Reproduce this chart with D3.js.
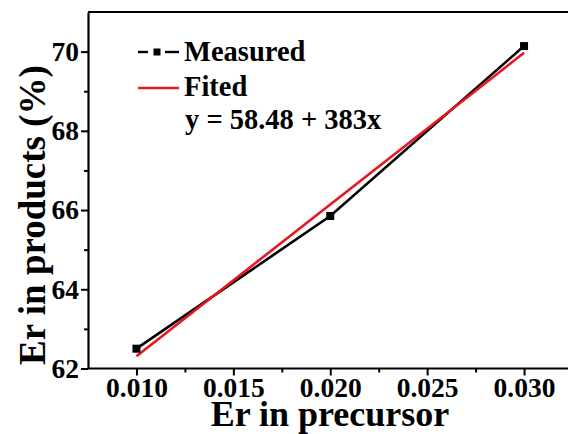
<!DOCTYPE html>
<html>
<head>
<meta charset="utf-8">
<script src="https://cdn.jsdelivr.net/npm/d3@7"></script>
<style>
  body { margin: 0; background: #fff; }
  svg { display: block; font-family: "Liberation Serif", "Times New Roman", serif; font-weight: bold; }
</style>
</head>
<body>
<div id="chart"></div>
<script>
// Er in products vs Er in precursor, measured points + linear fit

var precursor = [0.010, 0.020, 0.030];
var measured = [62.50, 65.85, 70.14];
var fitted = [62.31, 66.14, 69.97];
var xTicks = [0.010, 0.015, 0.020, 0.025, 0.030];
var xMinor = [0.0125, 0.0175, 0.0225, 0.0275];
var yTicks = [62, 64, 66, 68, 70];
var yMinor = [63, 65, 67, 69];
var legendLabels = ["Measured", "Fited"];
var equation = "y = 58.48 + 383x";

var W = 568, H = 434;
var mLeft = 88, mTop = 12, mBottom = 368.5;
var red = "#e8161e";

var svg = d3.select("#chart").append("svg")
    .attr("width", W)
    .attr("height", H);

var x = d3.scaleLinear().domain([0.0075, 0.0325]).range([mLeft, mLeft + 484.5]);
var y = d3.scaleLinear().domain([62, 71]).range([mBottom, mTop]);

// top frame line (figure is cropped on the right)
svg.append("line")
    .attr("x1", mLeft).attr("x2", W + 5)
    .attr("y1", mTop).attr("y2", mTop)
    .attr("stroke", "#000").attr("stroke-width", 2.2);

// x axis
var xAxis = svg.append("g")
    .attr("transform", "translate(0," + mBottom + ")")
    .call(d3.axisBottom(x).tickValues(xTicks).tickFormat(d3.format(".3f")).tickSize(7).tickPadding(2).tickSizeOuter(0));
svg.append("g")
    .attr("transform", "translate(0," + mBottom + ")")
    .call(d3.axisBottom(x).tickValues(xMinor).tickFormat("").tickSize(4).tickSizeOuter(0))
    .select(".domain").remove();

// y axis
var yAxis = svg.append("g")
    .attr("transform", "translate(" + mLeft + ",0)")
    .call(d3.axisLeft(y).tickValues(yTicks).tickSize(7).tickPadding(2).tickSizeOuter(0));
svg.append("g")
    .attr("transform", "translate(" + mLeft + ",0)")
    .call(d3.axisLeft(y).tickValues(yMinor).tickFormat("").tickSize(4).tickSizeOuter(0))
    .select(".domain").remove();

svg.selectAll(".domain").attr("stroke-width", 2.2);
svg.selectAll(".tick line").attr("stroke-width", 2);
svg.selectAll(".tick text")
    .attr("font-family", "Liberation Serif")
    .attr("font-weight", "bold")
    .attr("font-size", 27.5)
    .attr("fill", "#000");

// extend x domain line to the right edge
xAxis.select(".domain").attr("d", "M" + mLeft + ",0H" + (W + 5));

// axis titles
svg.append("text")
    .attr("x", 330).attr("y", 426)
    .attr("text-anchor", "middle")
    .attr("font-size", 36)
    .text("Er in precursor");

svg.append("text")
    .attr("transform", "translate(45,215) rotate(-90)")
    .attr("text-anchor", "middle")
    .attr("font-size", 37)
    .text("Er in products (%)");

var line = d3.line()
    .x(function(d) { return x(d[0]); })
    .y(function(d) { return y(d[1]); });

// measured
svg.append("path")
    .datum(d3.zip(precursor, measured))
    .attr("d", line)
    .attr("fill", "none")
    .attr("stroke", "#000")
    .attr("stroke-width", 2.6);

// fitted line
svg.append("path")
    .datum(d3.zip(precursor, fitted))
    .attr("d", line)
    .attr("fill", "none")
    .attr("stroke", red)
    .attr("stroke-width", 2.6);

svg.selectAll(".pt")
    .data(d3.zip(precursor, measured))
    .enter().append("rect")
    .attr("class", "pt")
    .attr("x", function(d) { return x(d[0]) - 4; })
    .attr("y", function(d) { return y(d[1]) - 4; })
    .attr("width", 8)
    .attr("height", 8)
    .attr("fill", "#000");

// legend
var lg = svg.append("g");
lg.append("line").attr("x1", 138).attr("x2", 148).attr("y1", 52).attr("y2", 52)
    .attr("stroke", "#000").attr("stroke-width", 2.4);
lg.append("line").attr("x1", 165).attr("x2", 179).attr("y1", 52).attr("y2", 52)
    .attr("stroke", "#000").attr("stroke-width", 2.4);
lg.append("rect").attr("x", 153.5).attr("y", 48.5).attr("width", 7).attr("height", 7).attr("fill", "#000");
lg.append("line").attr("x1", 138).attr("x2", 179).attr("y1", 88).attr("y2", 88)
    .attr("stroke", red).attr("stroke-width", 2.4);

lg.selectAll("text.lab")
    .data(legendLabels)
    .enter().append("text")
    .attr("class", "lab")
    .attr("x", 184)
    .attr("y", function(d, i) { return 61 + i * 35; })
    .attr("font-size", 28.5)
    .text(function(d) { return d; });

lg.append("text")
    .attr("x", 185).attr("y", 129)
    .attr("font-size", 28.5)
    .text(equation);
</script>
</body>
</html>
